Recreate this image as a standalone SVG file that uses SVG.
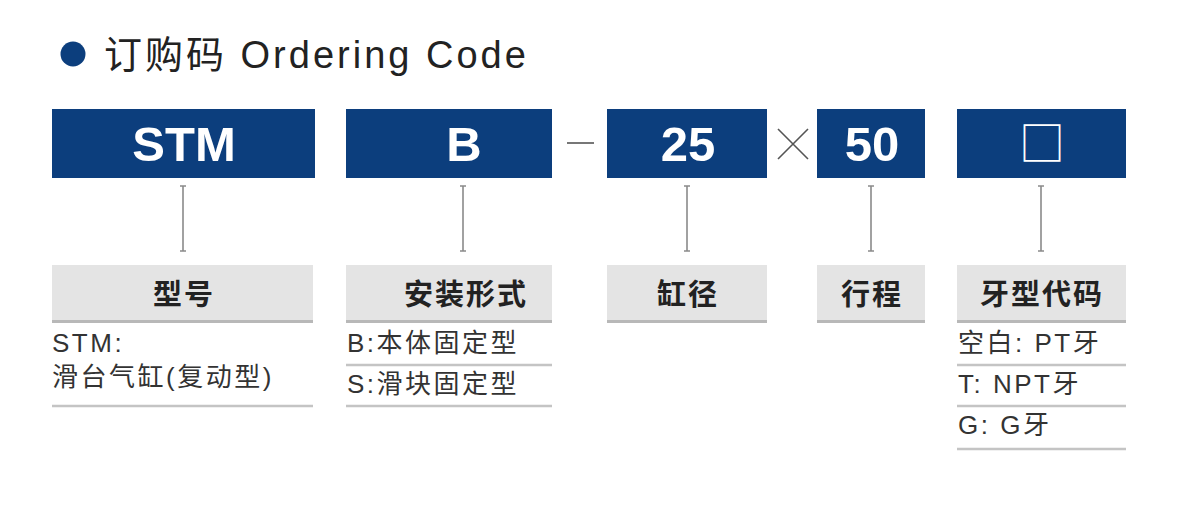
<svg xmlns="http://www.w3.org/2000/svg" width="1200" height="514" viewBox="0 0 1200 514">
<style>
.f{font-family:"Liberation Sans","Noto Sans CJK SC",sans-serif}
.code{fill:#0c3e7d}
.ct{font-family:"Liberation Sans","Noto Sans CJK SC",sans-serif;font-weight:bold;font-size:49px;fill:#fff;text-anchor:middle}
.lab{fill:#e4e4e4}
.labline{stroke:#b8b8b8;stroke-width:3}
.lt{font-family:"Noto Sans CJK SC","Liberation Sans",sans-serif;font-weight:bold;font-size:29px;fill:#222;text-anchor:middle;letter-spacing:2px}
.dt{font-family:"Liberation Sans","Noto Sans CJK SC",sans-serif;font-size:26px;fill:#333;letter-spacing:2.5px}
.sep{stroke:#c4c4c4;stroke-width:2.5}
.conn{stroke:#8a8a8a;stroke-width:1.6;fill:none}
.op{stroke:#555;stroke-width:1.6;fill:none}
</style>
<rect width="1200" height="514" fill="#fff"/>
<g id="title">
<circle cx="73" cy="54" r="12.5" fill="#0c3e7d"/>
<text class="f" x="104" y="68" font-size="38" fill="#222" letter-spacing="3">订购码 Ordering Code</text>
</g>
<g id="node-stm">
<rect class="code" x="52" y="109" width="263" height="69"/>
<text class="ct" x="184" y="161">STM</text>
</g>
<g id="node-b">
<rect class="code" x="346" y="109" width="206" height="69"/>
<text class="ct" x="464" y="161">B</text>
</g>
<g id="op-dash"><line class="op" x1="567" y1="143" x2="594" y2="143"/></g>
<g id="node-25">
<rect class="code" x="607" y="109" width="160" height="69"/>
<text class="ct" x="688" y="161">25</text>
</g>
<g id="op-times"><path class="op" d="M778 129 L808 159 M808 129 L778 159"/></g>
<g id="node-50">
<rect class="code" x="817" y="109" width="108" height="69"/>
<text class="ct" x="872" y="161">50</text>
</g>
<g id="node-box">
<rect class="code" x="957" y="109" width="169" height="69"/>
<text x="1042" y="160" font-family="Noto Sans CJK SC,sans-serif" font-size="46" fill="#fff" text-anchor="middle">□</text>
</g>
<g id="connectors">
<path class="conn" d="M183 186 V251 M180 186 H186 M180 251 H186"/>
<path class="conn" d="M463 186 V251 M460 186 H466 M460 251 H466"/>
<path class="conn" d="M687 186 V251 M684 186 H690 M684 251 H690"/>
<path class="conn" d="M871 186 V251 M868 186 H874 M868 251 H874"/>
<path class="conn" d="M1041 186 V251 M1038 186 H1044 M1038 251 H1044"/>
</g>
<g id="label-model">
<rect class="lab" x="52" y="265" width="261" height="56"/>
<line class="labline" x1="52" y1="321.5" x2="313" y2="321.5"/>
<text class="lt" x="184" y="305">型号</text>
<text class="dt" x="52" y="352">STM:</text>
<text class="dt" x="52" y="386">滑台气缸(复动型)</text>
<line class="sep" x1="52" y1="406" x2="313" y2="406"/>
</g>
<g id="label-mount">
<rect class="lab" x="346" y="265" width="206" height="56"/>
<line class="labline" x1="346" y1="321.5" x2="552" y2="321.5"/>
<text class="lt" x="466" y="305">安装形式</text>
<text class="dt" x="347" y="352">B:本体固定型</text>
<line class="sep" x1="346" y1="365" x2="552" y2="365"/>
<text class="dt" x="347" y="393">S:滑块固定型</text>
<line class="sep" x1="346" y1="406" x2="552" y2="406"/>
</g>
<g id="label-bore">
<rect class="lab" x="607" y="265" width="160" height="56"/>
<line class="labline" x1="607" y1="321.5" x2="767" y2="321.5"/>
<text class="lt" x="688" y="305">缸径</text>
</g>
<g id="label-stroke">
<rect class="lab" x="817" y="265" width="108" height="56"/>
<line class="labline" x1="817" y1="321.5" x2="925" y2="321.5"/>
<text class="lt" x="872" y="305">行程</text>
</g>
<g id="label-thread">
<rect class="lab" x="957" y="265" width="169" height="56"/>
<line class="labline" x1="957" y1="321.5" x2="1126" y2="321.5"/>
<text class="lt" x="1042" y="305">牙型代码</text>
<text class="dt" x="958" y="352">空白: PT牙</text>
<line class="sep" x1="957" y1="365" x2="1126" y2="365"/>
<text class="dt" x="958" y="393">T: NPT牙</text>
<line class="sep" x1="957" y1="406" x2="1126" y2="406"/>
<text class="dt" x="958" y="434">G: G牙</text>
<line class="sep" x1="957" y1="449" x2="1126" y2="449"/>
</g>
</svg>
